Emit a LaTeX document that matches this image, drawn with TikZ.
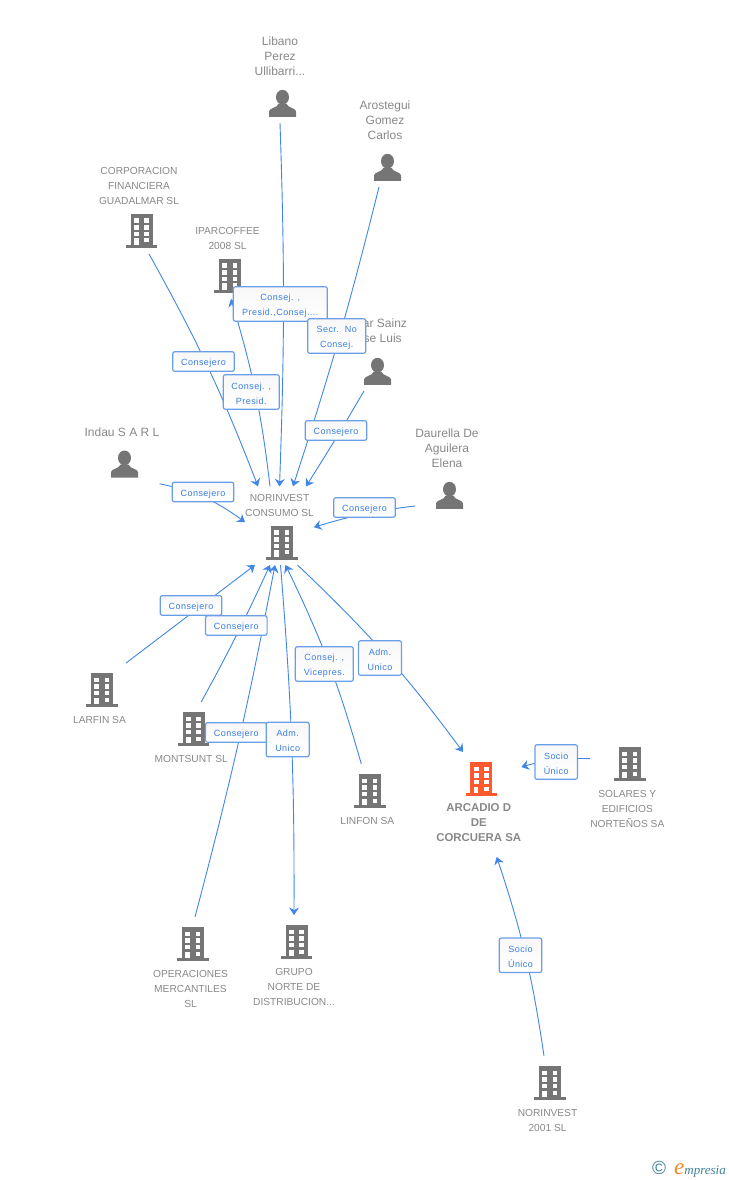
\documentclass[tikz,border=0pt]{standalone}
\usepackage{fontspec}
\setmainfont{Liberation Sans}
\newfontfamily\boxfont[LetterSpace=5]{Liberation Sans}
\newfontfamily\logofont{Liberation Serif}
\usetikzlibrary{arrows.meta}

\definecolor{linkblue}{HTML}{3F86E6}
\definecolor{boxblue}{HTML}{6A9FE8}
\definecolor{labelblue}{HTML}{3A7FE0}
\definecolor{captgray}{HTML}{888888}
\definecolor{icongray}{HTML}{757575}
\definecolor{iconorange}{HTML}{FF5A2E}
\definecolor{logoteal}{HTML}{3F7F98}
\definecolor{logoorange}{HTML}{F08A24}

% --- Icons ---
\newcommand{\bldg}[1]{\hspace*{5pt}\tikz[x=1pt,y=-1pt,baseline=(current bounding box.south)]{
  \fill[#1] (0,0) rectangle (22,32);
  \fill[#1] (-4.7,31) rectangle (26.7,33.7);
  \foreach \wy in {4.3,11,17.7} {
    \fill[white] (3.3,\wy) rectangle ++(5,4.4);
    \fill[white] (13.7,\wy) rectangle ++(4.7,4.4);
  }
  \fill[white] (3.3,24.3) rectangle (8,31);
  \fill[white] (13.7,24.3) rectangle (18.4,28.3);
}}
\newcommand{\prsn}{\hspace*{5pt}\tikz[x=1pt,y=-1pt,baseline=(current bounding box.south)]{
  \fill[icongray] (13.5,7.4) ellipse (6.5 and 7.4);
  \fill[icongray] (0,27) -- (0,21.5) .. controls (0.5,18) and (8,18.5) .. (9.5,14)
    -- (17.5,14) .. controls (19,18.5) and (26.5,18) .. (27,21.5) -- (27,27) -- cycle;
}}

\begin{document}
\begin{tikzpicture}[x=1pt,y=-1pt,
  person/.style={align=center,inner xsep=0pt,inner ysep=6pt,text=captgray,font=\fontsize{12}{15}\selectfont},
  orgup/.style={align=center,inner xsep=0pt,inner ysep=6pt,text=captgray,font=\fontsize{10.2}{15}\selectfont},
  orgdown/.style={orgup,inner ysep=10pt},
  link/.style={draw=linkblue,line width=0.9pt},
  arrowlink/.style={link,-{Stealth[length=7.5pt,width=10pt,inset=2.5pt]}},
  role/.style={draw=boxblue,line width=1.2pt,rounded corners=2pt,top color=black!3,bottom color=white,
    align=center,inner sep=0pt,text=labelblue,font=\boxfont\fontsize{9}{15}\selectfont},
  roleone/.style={role,minimum width=61.6pt,minimum height=19.5pt,execute at begin node={\rule{0pt}{10pt}}},
  roletwo/.style={role,minimum width=#1,minimum height=34.5pt,execute at begin node={\rule{0pt}{25pt}}}]
  \useasboundingbox (0,0) rectangle (728,1180);

  % --- People and companies above the hub ---
  \node (Libano) [person,anchor=south] at (280,123) {Libano\\Perez\\Ullibarri...\\[13pt]\prsn};
  \node (Arostegui) [person,anchor=south] at (385,187) {Arostegui\\Gomez\\Carlos\\[13pt]\prsn};
  \node (Corporacion) [orgup,anchor=south] at (139,254) {CORPORACION\\FINANCIERA\\GUADALMAR SL\\[8.3pt]\bldg{icongray}};
  \node (Iparcoffee) [orgup,anchor=south] at (227.5,299) {IPARCOFFEE\\2008 SL\\[8.3pt]\bldg{icongray}};
  \node (Sainz) [person,anchor=south] at (375,391) {\hspace*{20pt}ar Sainz\\\hspace*{15.4pt}se Luis\\[14pt]\prsn};
  \node (Indau) [person,anchor=south] at (122,483.7) {Indau S A R L\\[13pt]\prsn};
  \node (Daurella) [person,anchor=south] at (447,515) {Daurella De\\Aguilera\\Elena\\[13pt]\prsn};

  % --- Hub ---
  \node (Hub) [orgup,inner ysep=5pt,anchor=south] at (279.5,565) {NORINVEST\\CONSUMO SL\\[8.3pt]\bldg{icongray}};

  % --- Companies below the hub ---
  \node (Larfin) [orgdown,anchor=north] at (99.5,663) {\bldg{icongray}\\[2pt]LARFIN SA};
  \node (Montsunt) [orgdown,anchor=north] at (191.2,702) {\bldg{icongray}\\[2pt]MONTSUNT SL};
  \node (Linfon) [orgdown,anchor=north] at (367.3,764) {\bldg{icongray}\\[2pt]LINFON SA};
  \node (Operaciones) [orgdown,anchor=north] at (190.5,917) {\bldg{icongray}\\[2pt]OPERACIONES\\MERCANTILES\\SL};
  \node (Grupo) [orgdown,anchor=north] at (294,915) {\bldg{icongray}\\[2pt]GRUPO\\NORTE DE\\DISTRIBUCION...};
  \node (Arcadio) [orgdown,anchor=north,font=\bfseries\fontsize{11.4}{15}\selectfont] at (478.7,752) {\bldg{iconorange}\\[1pt]ARCADIO D\\DE\\CORCUERA SA};
  \node (Solares) [orgdown,anchor=north] at (627.3,737) {\bldg{icongray}\\[2pt]SOLARES Y\\EDIFICIOS\\NORTEÑOS SA};
  \node (Norinvest) [orgdown,anchor=north] at (547.5,1056) {\bldg{icongray}\\[2pt]NORINVEST\\2001 SL};

  % --- Links into the hub from above ---
  \draw[arrowlink] (Libano.south) to[bend left=2] ([shift={(0pt,3pt)}]Hub.north);
  \draw[arrowlink] ([xshift=-6pt]Arostegui.south) to[bend left=2] ([shift={(13.5pt,3pt)}]Hub.north);
  \draw[arrowlink] ([xshift=10pt]Corporacion.south) to[bend left=4] ([shift={(-21.5pt,3pt)}]Hub.north);
  \draw[arrowlink] ([shift={(-9.5pt,3pt)}]Hub.north) to[bend right=5] ([xshift=3.5pt]Iparcoffee.south);
  \draw[arrowlink] ([xshift=-11pt]Sainz.south) to[bend left=1] ([shift={(26.5pt,3pt)}]Hub.north);
  \draw[arrowlink] (Indau.south east) to[bend left=12] ([yshift=5pt]Hub.west);
  \draw[arrowlink] ([yshift=9pt]Daurella.south west) to[bend right=5] (Hub.east);

  % --- Links into the hub from below ---
  \draw[arrowlink] (Larfin.north east) -- ([xshift=-24.5pt]Hub.south);
  \draw[arrowlink] ([xshift=10pt]Montsunt.north) to[bend right=2] ([xshift=-9.5pt]Hub.south);
  \draw[arrowlink] ([xshift=4.5pt]Operaciones.north) to[bend right=2] ([xshift=-4.5pt]Hub.south);
  \draw[arrowlink] ([xshift=-6pt]Linfon.north) to[bend right=5] ([xshift=6pt]Hub.south);

  % --- Links out of the hub ---
  \draw[arrowlink] ([xshift=1pt]Hub.south) to[bend left=2.4] (Grupo.north);
  \draw[arrowlink] ([xshift=18pt]Hub.south) to[bend left=5] ([xshift=-15.7pt]Arcadio.north);

  % --- Links into the orange company ---
  \draw[arrowlink] ([yshift=-21.7pt]Solares.north west) to[bend right=9] ([yshift=-15pt]Arcadio.north east);
  \draw[arrowlink] ([xshift=-3.5pt]Norinvest.north) to[bend right=5] ([shift={(18pt,-4.7pt)}]Arcadio.south);

  % --- Role labels on the links ---
  \node (RoleIpar) [roletwo=94pt] at (280.3,304) {Consej. ,\\Presid.,Consej....};
  \node (RoleArost) [roletwo=58pt] at (336.7,336) {Secr.\ \ No\\Consej.};
  \node (RoleCorp) [roleone] at (203.5,361.5) {Consejero};
  \node (RoleLibano) [roletwo=56pt] at (251.3,392) {Consej. ,\\Presid.};
  \node (RoleSainz) [roleone] at (336,430.5) {Consejero};
  \node (RoleIndau) [roleone] at (203,492) {Consejero};
  \node (RoleDaurella) [roleone] at (364.5,507.5) {Consejero};
  \node (RoleLarfin) [roleone] at (191,605.5) {Consejero};
  \node (RoleMontsunt) [roleone] at (236.3,625.5) {Consejero};
  \node (RoleLinfon) [roletwo=58pt] at (324.3,664) {Consej. ,\\Vicepres.};
  \node (RoleArcadio) [roletwo=43pt] at (380,658) {Adm.\\Unico};
  \node (RoleOper) [roleone] at (236.3,732.5) {Consejero};
  \node (RoleGrupo) [roletwo=43pt] at (287.7,739.5) {Adm.\\Unico};
  \node (RoleSolares) [roletwo=42.5pt] at (556.2,762) {Socio\\Único};
  \node (RoleNorinvest) [roletwo=42.5pt] at (520.5,955.3) {Socio\\Único};

  % --- Logo ---
  \node (Logo) [anchor=east,inner sep=0pt,text=logoteal] at (726,1169)
    {\fontsize{19}{19}\selectfont ©\hspace{8pt}\logofont\itshape{\color{logoorange}\fontsize{23}{23}\selectfont e}\fontsize{13}{15}\selectfont mpresia};
\end{tikzpicture}
\end{document}
